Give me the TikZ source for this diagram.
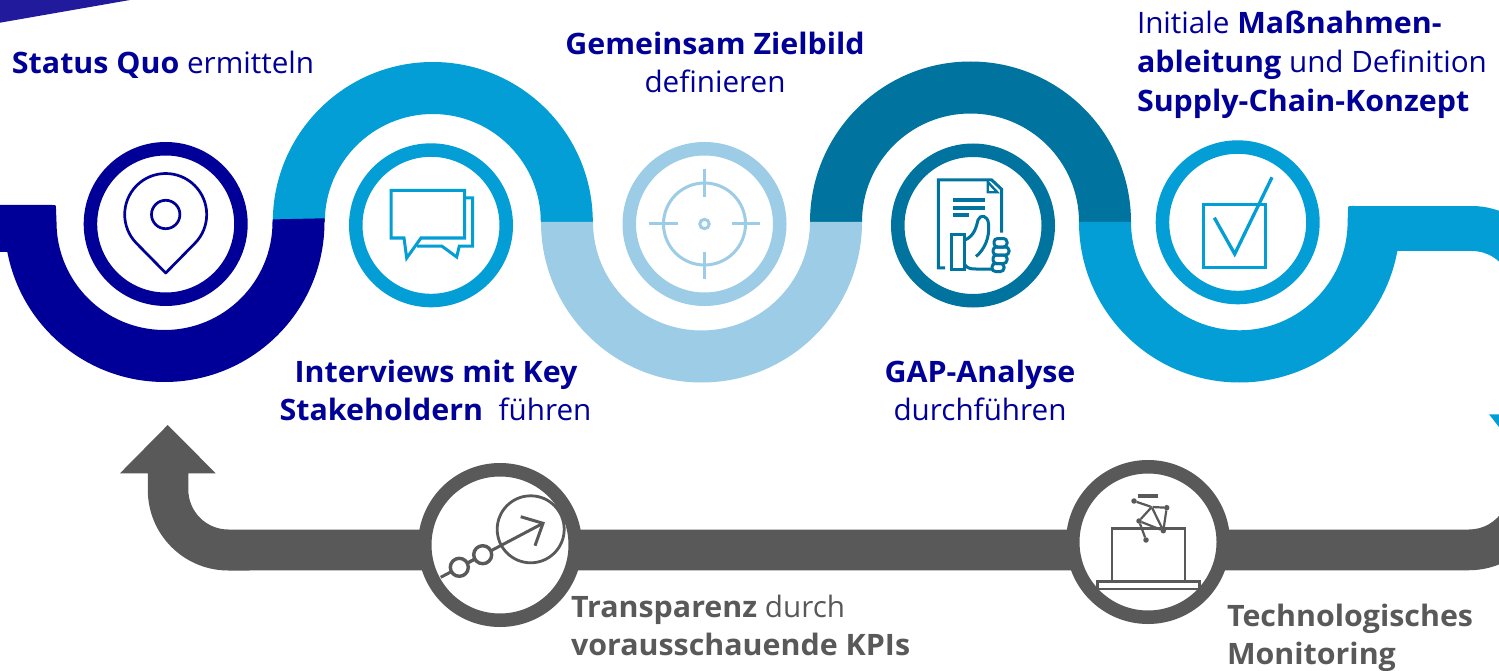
\documentclass[tikz,border=0pt]{standalone}
\usepackage{fontspec}
\setmainfont[FakeStretch=1.005,BoldFeatures={FakeStretch=1.03}]{Open Sans}
\definecolor{cNavy}{HTML}{000099}
\definecolor{cCyan}{HTML}{029ED5}
\definecolor{cLight}{HTML}{9DCCE6}
\definecolor{cTeal}{HTML}{00749F}
\definecolor{cGrey}{HTML}{595959}
\definecolor{cCorner}{HTML}{221A9C}
\tikzset{
  ring/.style={circle,draw=#1,line width=13.5pt,minimum size=150.5pt,inner sep=0pt,outer sep=0pt,fill=white},
  lab/.style={inner sep=0pt,outer sep=0pt,anchor=base west,text=#1,font=\fontsize{29.5}{39}\selectfont},
  labc/.style={inner sep=0pt,outer sep=0pt,anchor=base,text=#1,font=\fontsize{29.5}{39}\selectfont},
  ico/.style={draw=#1,line width=3pt,line join=miter,fill=none},
  dotn/.style={circle,fill=cGrey,inner sep=0pt,minimum size=5.5pt,outer sep=0pt},
}
\begin{document}
\begin{tikzpicture}[x=1pt,y=-1pt]
\useasboundingbox (0,0) rectangle (1499,671);
\clip (0,0) rectangle (1499,671);
\fill[white] (0,0) rectangle (1499,671);
% corner
\fill[cCorner] (0,0) -- (130,0) -- (0,22.7) -- cycle;
% arch 1
\fill[cCyan] (272.8,222) arc[start angle=180,end angle=360,radius=160] -- (540.8,222) arc[start angle=360,end angle=180,radius=108] -- cycle;
% U1
\fill[cNavy] (0,205) -- (52,205) .. controls (56,205) and (56,205) .. (56,209) -- (56.5,222)
  arc[start angle=180,end angle=0,radius=108] -- (272.8,219.4) -- (324.5,218.3) -- (324.5,222)
  arc[start angle=0,end angle=169.2,radius=160] -- (0,252) -- cycle;
% arch 2
\fill[cTeal] (810,222) arc[start angle=180,end angle=360,radius=160.5] -- (1079,222) arc[start angle=360,end angle=180,radius=108.5] -- cycle;
% U2
\fill[cLight] (541,222) arc[start angle=180,end angle=0,radius=160.5] -- (810,222) arc[start angle=0,end angle=180,radius=108.5] -- cycle;
% U3
\fill[cCyan] (1079,222) arc[start angle=180,end angle=10.4,radius=160.5] -- (1472,251)
  arc[start angle=270,end angle=330,radius=40] -- (1512,216.8)
  arc[start angle=300,end angle=270,radius=80.5] -- (1352,206)
  .. controls (1348,206) and (1348,206) .. (1348,210) -- (1347.6,222)
  arc[start angle=0,end angle=180,radius=108.3] -- cycle;
\fill[cCyan] (1489,414.3) -- (1499,414.3) -- (1499,427) -- cycle;
% grey arrow band
\fill[cGrey] (167.7,425) -- (215.7,473.3) -- (188.3,473.3) -- (188.3,489.5)
  arc[start angle=180,end angle=90,radius=40] -- (1469,529.5)
  arc[start angle=90,end angle=30,radius=40] -- (1538.7,530)
  arc[start angle=30,end angle=90,radius=80.5] -- (228.3,570.5)
  arc[start angle=90,end angle=180,radius=80.5] -- (147.8,473.3) -- (120,473.3) -- cycle;
% rings
\node[ring=cNavy] (r1) at (165.7,224) {};
\node[ring=cCyan] (r2) at (431,225.3) {};
\node[ring=cLight] (r3) at (704.5,224) {};
\node[ring=cTeal] (r4) at (973,225.5) {};
\node[ring=cCyan] (r5) at (1237.7,222.3) {};
\node[ring=cGrey] (r6) at (500,545) {};
\node[ring=cGrey] (r7) at (1148,542) {};
% pin
\draw[ico=cNavy,line width=2.7pt,line join=round] (165.7,273) -- (136.7,243.5) arc[start angle=135,end angle=405,radius=41] -- cycle;
\draw[ico=cNavy,line width=2.7pt] (165.7,214.5) circle[radius=14.2];
% bubbles
\draw[ico=cCyan] (391,190.5) -- (464.5,190.5) -- (464.5,238) -- (421,238) -- (406.7,258) -- (404,238) -- (391,238) -- cycle;
\draw[ico=cCyan] (466,198) -- (472.5,198) -- (472.5,246) -- (459.3,246) -- (456.7,257) -- (441.7,246) -- (417,246);
% target
\draw[ico=cLight] (704.5,224) circle[radius=41];
\draw[ico=cLight] (704.5,224) circle[radius=4.7];
\draw[ico=cLight] (704.5,169) -- (704.5,196.7) (704.5,251.7) -- (704.5,279) (649,224) -- (677.5,224) (732,224) -- (759.6,224);
% document with thumb
\draw[ico=cTeal] (945,267.8) -- (938.3,267.8) -- (938.3,180) -- (991.7,180) -- (1001.7,189.3) -- (1001.7,232.7);
\draw[ico=cTeal,line width=2.4pt] (987.7,182) -- (987.7,192.3) -- (997.3,192.3) -- cycle;
\draw[cTeal,line width=4pt] (953,199.8) -- (985,199.8) (953,208) -- (985,208) (953,214.8) -- (969,214.8);
\draw[ico=cTeal] (951,235) rectangle (964.5,269.5);
\draw[ico=cTeal,line join=round] (965,240) .. controls (974,236) and (976,228) .. (978,220) .. controls (980,214) and (988,215) .. (988.5,224)
  .. controls (990,238) and (984,250) .. (976,256.5);
\draw[ico=cTeal,line join=round] (965,265) .. controls (968,269) and (972,269) .. (976,269) -- (993,269);
\draw[ico=cTeal,rounded corners=3.5pt] (994,238.5) rectangle (1007,247);
\draw[ico=cTeal,rounded corners=3.5pt] (993,247) rectangle (1009,255);
\draw[ico=cTeal,rounded corners=3.5pt] (993,255) rectangle (1007,263.5);
\draw[ico=cTeal,rounded corners=3.5pt] (992,263.5) rectangle (1004,271.5);
% check box
\draw[ico=cCyan,line width=3.3pt] (1203.4,204.4) rectangle (1265.6,267.4);
\draw[ico=cCyan,line width=3.3pt] (1214.3,217.7) -- (1234.7,254) -- (1272,177.3);
% arrow icon
\draw[cGrey,line width=3pt] (440.7,577.3) -- (543,523.3);
\draw[cGrey,line width=3pt] (520.7,516.7) -- (543,523.3) -- (535,545.7);
\draw[cGrey,line width=2.8pt] (530.7,529.3) circle[radius=33.5];
\node[circle,draw=cGrey,fill=white,line width=3.4pt,minimum size=18pt,inner sep=0pt,outer sep=0pt] (s1) at (459.3,567.3) {};
\node[circle,draw=cGrey,fill=white,line width=3.4pt,minimum size=18pt,inner sep=0pt,outer sep=0pt] (s2) at (482.7,554.7) {};
\draw[cGrey,line width=3pt] (s1) -- (s2);
% monitor icon
\draw[cGrey,line width=2.2pt] (1111.7,580.5) -- (1111.7,528.5) -- (1185,528.5) -- (1185,580.5);
\draw[cGrey,line width=2.2pt] (1097.5,581.5) rectangle (1199.5,588.8);
\fill[cGrey] (1138,494) rectangle (1158,497.7);
\node[dotn] (na) at (1134,501) {};
\node[dotn] (nb) at (1166.7,507.7) {};
\node[dotn] (nc) at (1139,521) {};
\node[dotn] (nd) at (1163.3,530.7) {};
\node[dotn] (ne) at (1146,540) {};
\node[dotn,minimum size=2pt] (nf) at (1151.7,507) {};
\draw[cGrey,line width=2.2pt] (na) -- (nf) -- (nb) -- (nd) -- (nf) -- (nc) -- (nd) (nc) -- (ne);
% labels
\node[lab=cNavy] (t1) at (12,73.5) {\textbf{Status Quo} ermitteln};
\node[labc=cNavy] (t2a) at (715,54.5) {\textbf{Gemeinsam Zielbild}};
\node[labc=cNavy] (t2b) at (715,92.5) {definieren};
\node[lab=cNavy] (t3a) at (1137,34) {Initiale \textbf{Maßnahmen-}};
\node[lab=cNavy] (t3b) at (1137,73) {\textbf{ableitung} und Definition};
\node[lab=cNavy] (t3c) at (1137,112) {\textbf{Supply-Chain-Konzept}};
\node[labc=cNavy] (t4a) at (436,382) {\textbf{Interviews mit Key}};
\node[labc=cNavy] (t4b) at (435.5,420) {\textbf{Stakeholdern}\ \ führen};
\node[labc=cNavy] (t5a) at (980,382) {\textbf{GAP-Analyse}};
\node[labc=cNavy] (t5b) at (980,420) {durchführen};
\node[lab=cGrey] (t6a) at (571,617) {\textbf{Transparenz} durch};
\node[lab=cGrey] (t6b) at (571,655) {\textbf{vorausschauende KPIs}};
\node[lab=cGrey] (t7a) at (1227,626) {\textbf{Technologisches}};
\node[lab=cGrey] (t7b) at (1227,664) {\textbf{Monitoring}};
\end{tikzpicture}
\end{document}
